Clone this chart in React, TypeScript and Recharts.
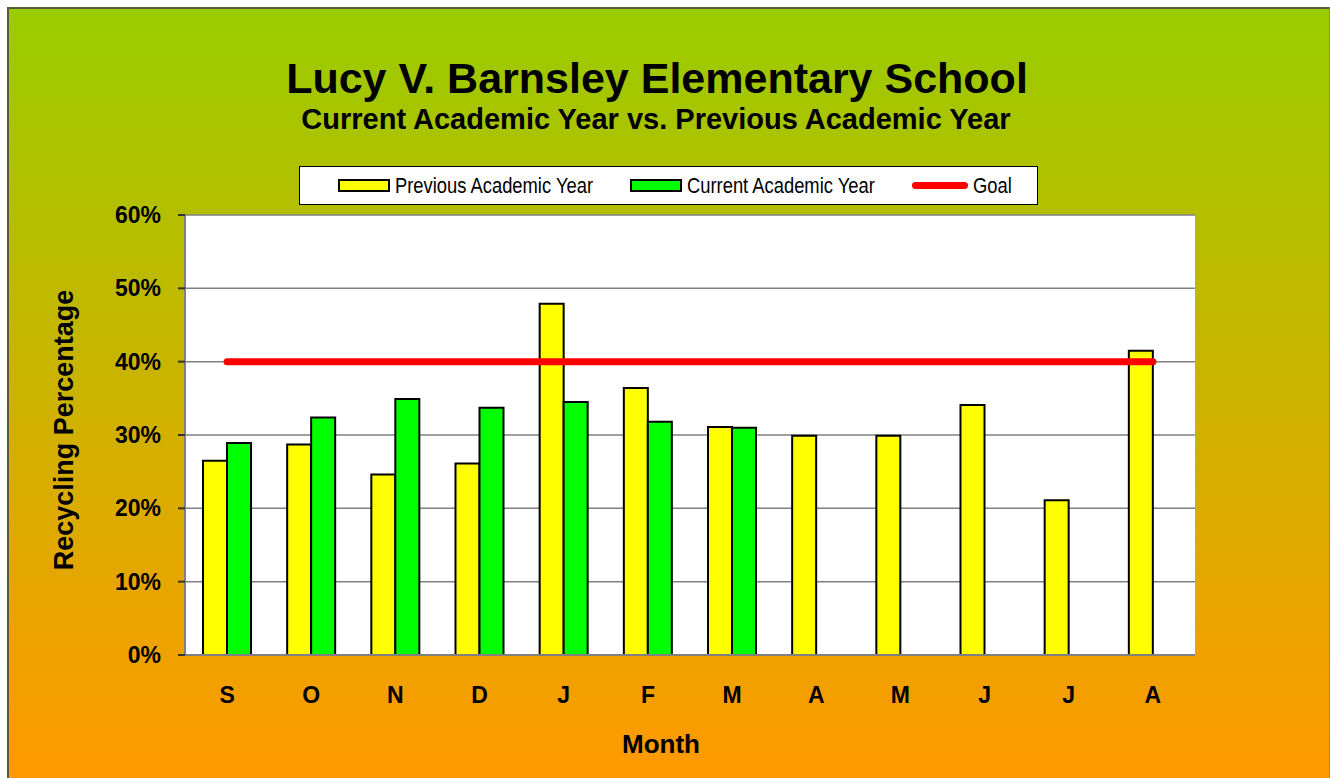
import { ComposedChart, Bar, Line, XAxis, YAxis, CartesianGrid, Legend } from 'recharts';

const months = ['S', 'O', 'N', 'D', 'J', 'F', 'M', 'A', 'M', 'J', 'J', 'A'];
const previousYear = [0.265, 0.287, 0.246, 0.261, 0.479, 0.364, 0.311, 0.299, 0.299, 0.341, 0.211, 0.415];
const currentYear = [0.289, 0.324, 0.349, 0.337, 0.345, 0.318, 0.31, null, null, null, null, null];
const goalValue = 0.4;
const yTicks = [0, 0.1, 0.2, 0.3, 0.4, 0.5, 0.6];
const legendOrder = ['Previous Academic Year', 'Current Academic Year', 'Goal'];

const data = months.map((month, i) => ({
  month,
  previous: previousYear[i],
  current: currentYear[i],
  goal: goalValue,
}));

const FONT = "'Liberation Sans', Arial, sans-serif";

const tickStyle = { fill: '#000', fontSize: 23, fontWeight: 700, fontFamily: FONT };

// no narrow font installed, so the legend text is squeezed horizontally
const NARROW_SCALE = 0.82;
const LEGEND_FONT = 22.4;
const labelWidths: Record<string, number> = {
  'Previous Academic Year': 198,
  'Current Academic Year': 188,
  Goal: 38,
};

function renderLegend(props: any) {
  const payload = [...props.payload].sort(
    (a: any, b: any) => legendOrder.indexOf(a.value) - legendOrder.indexOf(b.value)
  );
  return (
    <div
      style={{
        boxSizing: 'border-box',
        width: '100%',
        height: '100%',
        background: '#fff',
        border: '1px solid #000',
        display: 'flex',
        alignItems: 'center',
        paddingLeft: 38,
        gap: 37,
        fontFamily: FONT,
        fontSize: LEGEND_FONT,
        color: '#000',
        whiteSpace: 'nowrap',
      }}
    >
      {payload.map((entry: any) => (
        <div key={entry.value} style={{ display: 'flex', alignItems: 'center', gap: 5 }}>
          {entry.type === 'line' ? (
            <div style={{ width: 56, height: 7, borderRadius: 4, background: entry.color }} />
          ) : (
            <div
              style={{
                boxSizing: 'border-box',
                width: 52,
                height: 13,
                background: entry.color,
                border: '2px solid #000',
              }}
            />
          )}
          <span style={{ display: 'inline-block', width: labelWidths[entry.value] ?? 100 }}>
            <span
              style={{
                display: 'inline-block',
                transform: `scaleX(${NARROW_SCALE})`,
                transformOrigin: 'left center',
              }}
            >
              {entry.value}
            </span>
          </span>
        </div>
      ))}
    </div>
  );
}

export default function App() {
  return (
    <div style={{ position: 'absolute', left: 0, top: 0, width: 1330, height: 778, overflow: 'hidden' }}>
      <div
        style={{
          position: 'absolute',
          left: 7,
          top: 7,
          width: 1323,
          height: 771,
          boxSizing: 'border-box',
          borderLeft: '2px solid #5a5a3c',
          borderTop: '2px solid #5a5a3c',
          borderRight: '1px solid #8a8a6a',
          background: 'linear-gradient(to bottom, #99cc00, #ff9900)',
        }}
      />
      <div style={{ position: 'absolute', left: 0, top: 0 }}>
        <ComposedChart
          width={1330}
          height={778}
          data={data}
          margin={{ top: 215, right: 135, bottom: 83, left: 125 }}
          barGap={0}
          barSize={24}
        >
          <CartesianGrid
            vertical={false}
            stroke="#808080"
            strokeWidth={1.5}
            fill="#ffffff"
            fillOpacity={1}
          />
          <XAxis
            dataKey="month"
            height={40}
            interval={0}
            tickLine={false}
            tickSize={0}
            tickMargin={32}
            axisLine={{ stroke: '#808080', strokeWidth: 2 }}
            tick={tickStyle}
          />
          <YAxis
            type="number"
            domain={[0, 0.6]}
            ticks={yTicks}
            interval={0}
            width={60}
            tickSize={7}
            tickMargin={17}
            tickFormatter={(v: number) => `${Math.round(v * 100)}%`}
            axisLine={{ stroke: '#808080', strokeWidth: 2 }}
            tickLine={{ stroke: '#333', strokeWidth: 2 }}
            tick={tickStyle}
          />
          <Legend
            layout="vertical"
            align="center"
            verticalAlign="middle"
            wrapperStyle={{ left: 299, top: 166, width: 739, height: 39 }}
            content={renderLegend}
          />
          <Bar
            dataKey="previous"
            name="Previous Academic Year"
            fill="#ffff00"
            stroke="#000"
            strokeWidth={2}
            isAnimationActive={false}
          />
          <Bar
            dataKey="current"
            name="Current Academic Year"
            fill="#00ff00"
            stroke="#000"
            strokeWidth={2}
            isAnimationActive={false}
          />
          <Line
            type="linear"
            dataKey="goal"
            name="Goal"
            stroke="#ff0000"
            strokeWidth={7}
            strokeLinecap="round"
            dot={false}
            activeDot={false}
            legendType="line"
            isAnimationActive={false}
          />
        </ComposedChart>
      </div>
      <svg
        width={1330}
        height={778}
        style={{ position: 'absolute', left: 0, top: 0, pointerEvents: 'none' }}
      >
        <text x={657} y={93} textAnchor="middle" fontFamily={FONT} fontWeight={700} fontSize={43}>
          Lucy V. Barnsley Elementary School
        </text>
        <text x={656} y={129} textAnchor="middle" fontFamily={FONT} fontWeight={700} fontSize={29}>
          Current Academic Year vs. Previous Academic Year
        </text>
        <text x={661} y={753} textAnchor="middle" fontFamily={FONT} fontWeight={700} fontSize={26}>
          Month
        </text>
        <text
          x={73}
          y={430}
          textAnchor="middle"
          fontFamily={FONT}
          fontWeight={700}
          fontSize={27}
          transform="rotate(-90 73 430)"
        >
          Recycling Percentage
        </text>
      </svg>
    </div>
  );
}
